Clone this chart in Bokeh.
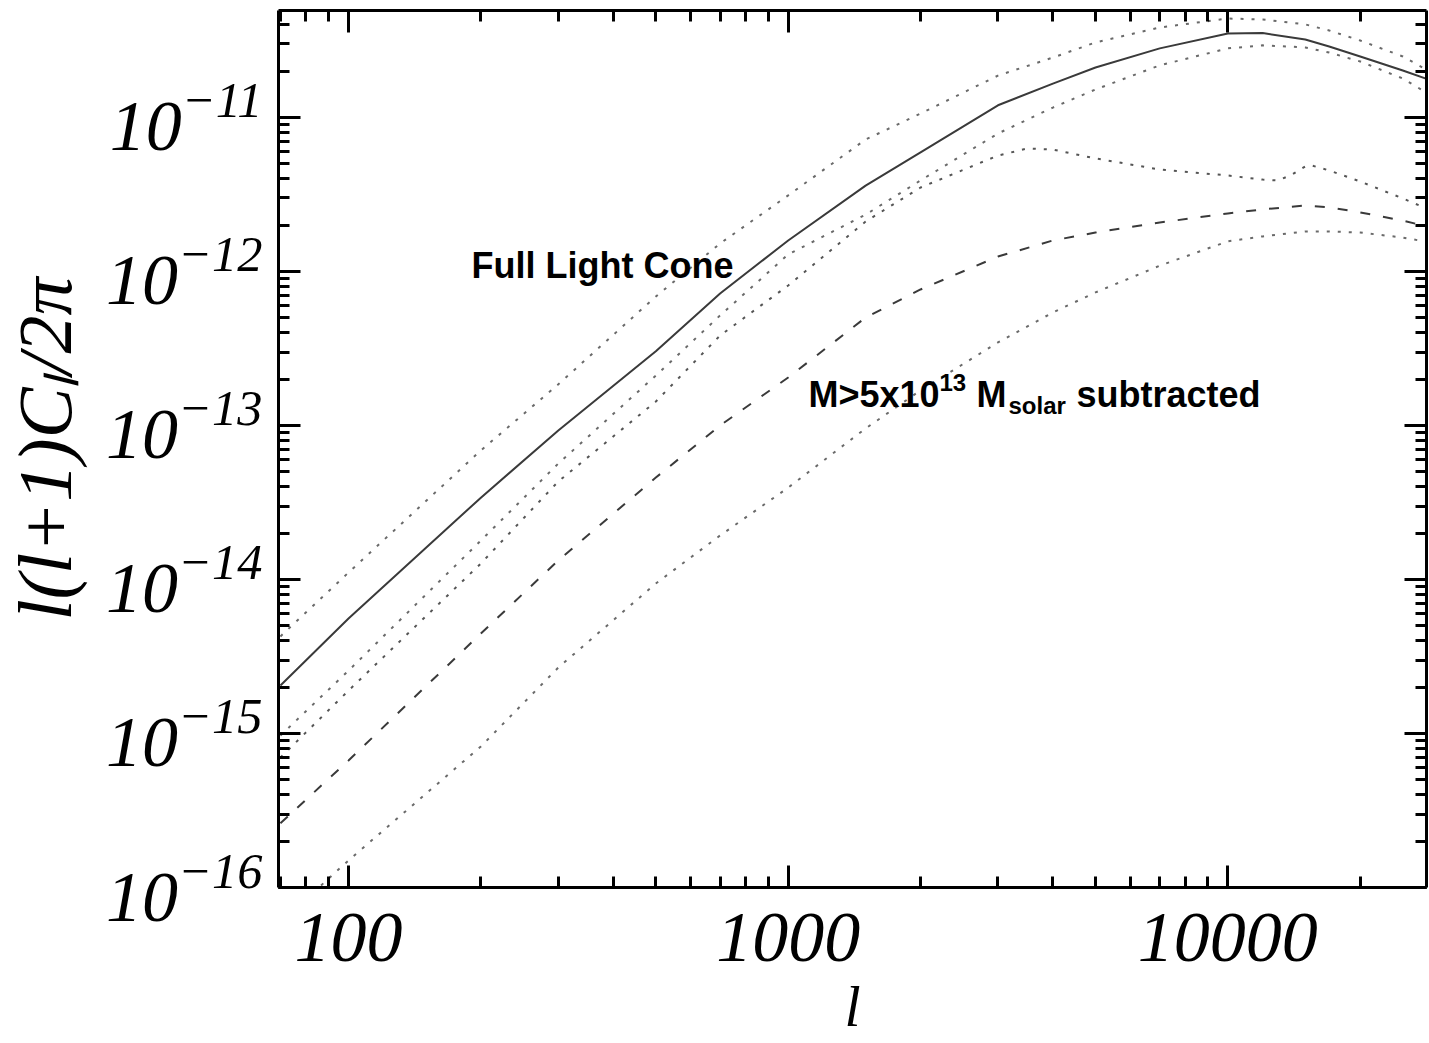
import math
from bokeh.plotting import figure
from bokeh.models import (LogAxis, Label, Range1d, NumeralTickFormatter, LogTicker,
                          CustomJSTickFormatter)
from bokeh.embed import file_html
from bokeh.resources import INLINE

# multipole l samples
ell = [70, 100, 200, 300, 500, 700, 1000, 1500, 2000, 3000, 4000, 5000, 7000,
       10000, 12000, 15000, 17000, 20000, 25000, 29000]
ell_bump = [70, 100, 200, 300, 500, 700, 1000, 1500, 2000, 3000, 3500, 4000, 5000, 7000,
            10000, 12000, 13000, 14000, 15000, 15500, 17000, 20000, 25000, 29000]

# Full light cone (solid)
full_cone = [2.05e-15, 5.58e-15, 3.40e-14, 9.29e-14, 3.03e-13, 7.19e-13, 1.59e-12, 3.61e-12,
             5.93e-12, 1.20e-11, 1.66e-11, 2.11e-11, 2.81e-11, 3.51e-11, 3.53e-11, 3.21e-11,
             2.89e-11, 2.49e-11, 2.02e-11, 1.74e-11]
# upper dotted
upper_dot = [4.27e-15, 1.11e-14, 6.89e-14, 1.85e-13, 6.88e-13, 1.52e-12, 3.12e-12, 7.19e-12,
             1.06e-11, 1.87e-11, 2.45e-11, 3.07e-11, 3.84e-11, 4.39e-11, 4.33e-11, 4.02e-11,
             3.67e-11, 3.16e-11, 2.49e-11, 1.96e-11]
# dotted just below full cone
lower_dot = [9.70e-16, 2.56e-15, 1.79e-14, 5.66e-14, 2.11e-13, 5.18e-13, 1.29e-12, 2.34e-12,
             3.90e-12, 7.87e-12, 1.16e-11, 1.52e-11, 2.18e-11, 2.81e-11, 2.94e-11, 2.85e-11,
             2.64e-11, 2.31e-11, 1.79e-11, 1.39e-11]
# dotted with bump
bump_dot = [6.98e-16, 1.90e-15, 1.27e-14, 4.33e-14, 1.43e-13, 3.84e-13, 8.11e-13, 2.11e-12,
            3.51e-12, 5.66e-12, 6.29e-12, 6.19e-12, 5.42e-12, 4.59e-12, 4.20e-12, 3.95e-12,
            3.90e-12, 4.26e-12, 4.81e-12, 4.88e-12, 4.53e-12, 3.84e-12, 2.98e-12, 2.49e-12]
# M > 5x10^13 Msolar subtracted (dashed)
subtracted = [2.61e-16, 6.68e-16, 4.46e-15, 1.33e-14, 4.59e-14, 1.00e-13, 2.05e-13, 5.02e-13,
              7.64e-13, 1.25e-12, 1.59e-12, 1.79e-12, 2.08e-12, 2.38e-12, 2.53e-12, 2.68e-12,
              2.61e-12, 2.42e-12, 2.14e-12, 1.93e-12]
# lowest dotted
lowest_dot = [5.93e-17, 1.50e-16, 8.24e-16, 2.68e-15, 9.42e-15, 1.93e-14, 3.95e-14, 9.57e-14,
              1.69e-13, 3.46e-13, 5.42e-13, 7.31e-13, 1.09e-12, 1.57e-12, 1.69e-12, 1.82e-12,
              1.82e-12, 1.79e-12, 1.66e-12, 1.54e-12]

p = figure(width=1428, height=1042, x_axis_type="log", y_axis_type="log",
           x_range=Range1d(69.3, 28300), y_range=Range1d(1e-16, 4.95e-11),
           output_backend="svg", toolbar_location=None,
           min_border_left=277, min_border_right=2, min_border_top=10, min_border_bottom=155)
p.xgrid.visible = False
p.ygrid.visible = False
p.outline_line_color = None
p.background_fill_color = "white"
p.border_fill_color = "white"

def style(ax):
    ax.axis_line_width = 3
    ax.axis_line_color = "black"
    ax.major_tick_in = 22
    ax.major_tick_out = 0
    ax.minor_tick_in = 11
    ax.minor_tick_out = 0
    ax.major_tick_line_width = 3
    ax.minor_tick_line_width = 3
    ax.major_tick_line_color = "black"
    ax.minor_tick_line_color = "black"

for ax in p.xaxis + p.yaxis:
    style(ax)
    ax.major_label_text_font = "Liberation Serif"
    ax.major_label_text_font_style = "italic"
    ax.major_label_text_font_size = "72px"
    ax.major_label_text_color = "black"
    ax.axis_label_text_font = "Liberation Serif"
    ax.axis_label_text_font_style = "italic"
    ax.axis_label_text_color = "black"

p.xaxis.ticker = LogTicker(num_minor_ticks=10)
p.xaxis.formatter = NumeralTickFormatter(format="0")
p.xaxis.major_label_standoff = 26
p.xaxis.axis_label = "l"
p.xaxis.axis_label_text_font_size = "58px"
p.xaxis.axis_label_standoff = 10

p.yaxis.ticker = LogTicker(num_minor_ticks=10)
p.yaxis.major_label_standoff = 16
p.yaxis.axis_label = "l(l+1)Cₗ/2π"
p.yaxis.axis_label_text_font_size = "76px"
p.yaxis.axis_label_standoff = 16

blank = CustomJSTickFormatter(code="return ''")
top = LogAxis(ticker=LogTicker(num_minor_ticks=10), formatter=blank, major_label_standoff=0)
right = LogAxis(ticker=LogTicker(num_minor_ticks=10), formatter=blank, major_label_standoff=0)
for ax in (top, right):
    style(ax)
    ax.major_label_text_font_size = "1px"
p.add_layout(top, "above")
p.add_layout(right, "right")

p.line(ell, upper_dot, line_color="#6a6a6a", line_width=2, line_dash="3 8")
p.line(ell, lower_dot, line_color="#6a6a6a", line_width=2, line_dash="3 8")
p.line(ell_bump, bump_dot, line_color="#555555", line_width=2, line_dash="3 8")
p.line(ell, lowest_dot, line_color="#6a6a6a", line_width=2, line_dash="3 8")
p.line(ell, subtracted, line_color="#3a3a3a", line_width=2, line_dash="10 13")
p.line(ell, full_cone, line_color="#3a3a3a", line_width=2)

def lab(text, x, y, size, **kw):
    opts = dict(x=x, y=y, x_units="screen", y_units="screen", text=text,
                text_font_size=size, text_color="black")
    opts.update(kw)
    p.add_layout(Label(**opts))

sans = dict(text_font="Liberation Sans", text_font_style="bold", text_baseline="alphabetic",
            text_align="left")

lab("Full Light Cone", 193, 622, "36px", **sans)
lab("M>5x10", 530, 493, "36px", **sans)
lab("13", 661, 505, "24px", **sans)
lab("M", 698, 493, "36px", **sans)
lab("solar", 730, 482, "24px", **sans)
lab("subtracted", 798, 493, "36px", **sans)

open("out.html", "w").write(file_html(p, INLINE))
